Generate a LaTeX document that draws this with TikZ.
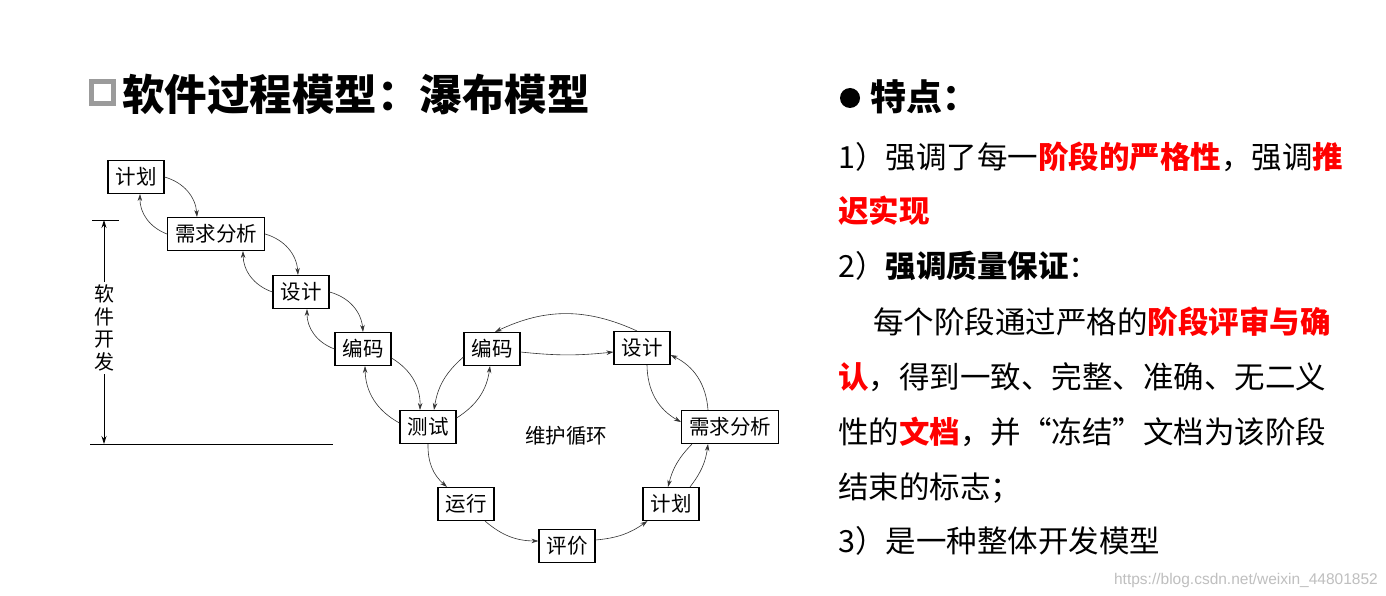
\documentclass[tikz,border=0pt]{standalone}
\usepackage{fontspec}
\setmainfont{Noto Sans CJK SC}
\newfontfamily\wmfont{Liberation Sans}
\usetikzlibrary{arrows.meta,calc}
\definecolor{hlred}{RGB}{255,0,0}
\definecolor{sqgray}{RGB}{155,155,155}
\newcommand{\hl}[1]{\textcolor{hlred}{\bfseries #1}}
\begin{document}
\begin{tikzpicture}[x=1pt,y=-1pt,
  box/.style={draw=black, line width=1.1pt, fill=white, font=\fontsize{20.5}{22}\selectfont, inner xsep=7.5pt, inner ysep=0pt, minimum height=33pt},
  flow/.style={-{Stealth[length=7pt,width=4.5pt]}, line width=0.6pt, draw=black!80},
  dimline/.style={line width=0.8pt, draw=black},
  body/.style={anchor=base west, inner sep=0pt, font=\fontsize{30.5}{32}\selectfont},
]
\useasboundingbox (0,0) rectangle (1386,596);
\fill[white] (0,0) rectangle (1386,596);

% title
\node[draw=sqgray, line width=5pt, minimum size=22pt, inner sep=0pt] (sq) at (102,93) {};
\node[anchor=base west, inner sep=0pt, font=\fontsize{42.5}{44}\selectfont\bfseries] (title) at (122,111) {软件过程模型：瀑布模型};

% waterfall boxes
\node[box] (p1) at (136,177) {计划};
\node[box] (r1) at (216,234) {需求分析};
\node[box] (d1) at (301,292) {设计};
\node[box] (c1) at (363,349) {编码};
\node[box] (t)  at (428,427) {测试};
% maintenance loop
\node[box] (c2) at (492,349) {编码};
\node[box] (d2) at (642,348) {设计};
\node[box] (r2) at (730,427) {需求分析};
\node[box] (p2) at (671,504) {计划};
\node[box] (y)  at (466,504) {运行};
\node[box] (e)  at (567,546) {评价};
\node[font=\fontsize{20.5}{22}\selectfont] (loop) at (566,436) {维护循环};

% waterfall arrows
\draw[flow] (p1.east) to[bend left=35] ($(r1.north)+(-19,0)$);
\draw[flow] (r1.west) to[bend left=35] ($(p1.south)+(4,0)$);
\draw[flow] (r1.east) to[bend left=35] ($(d1.north)+(-3,0)$);
\draw[flow] (d1.west) to[bend left=35] ($(r1.south)+(27,0)$);
\draw[flow] (d1.east) to[bend left=35] (c1.north);
\draw[flow] (c1.west) to[bend left=35] ($(d1.south)+(6,0)$);
\draw[flow] ($(c1.east)+(0,9)$) to[bend left=30] ($(t.north)+(-8,0)$);
\draw[flow] ($(t.west)+(0,-4)$) to[bend left=30] ($(c1.south)+(2,0)$);

% loop arrows
\draw[flow] ($(c2.west)+(0,8)$) to[bend right=20] ($(t.north)+(6,0)$);
\draw[flow] ($(t.east)+(0,-9)$) to[bend right=25] ($(c2.south)+(-2,0)$);
\draw[flow] ($(c2.east)+(0,3)$) to[bend right=6] ($(d2.west)+(0,4)$);
\draw[flow] ($(d2.north)+(-5,0)$) to[bend right=25] ($(c2.north)+(3,0)$);
\draw[flow] ($(d2.south)+(5,0)$) to[bend right=30] ($(r2.west)+(0,-5)$);
\draw[flow] ($(r2.north)+(-22,0)$) to[bend right=30] ($(d2.east)+(0,7)$);
\draw[flow] ($(r2.south)+(-38,0)$) to[bend right=15] ($(p2.north)+(-3,0)$);
\draw[flow] ($(p2.north)+(19,0)$) to[bend right=15] ($(r2.south)+(-22,0)$);
\draw[flow] (t.south) to[bend right=25] ($(y.north)+(-19,0)$);
\draw[flow] ($(y.south)+(19,0)$) to[bend right=20] ($(e.west)+(0,-5)$);
\draw[flow] ($(e.east)+(0,-6)$) to[bend right=15] ($(p2.south west)+(5,0)$);

% software development dimension
\coordinate (tickL) at (92,220);
\coordinate (tickR) at (119,220);
\coordinate (dimtop) at (104,220);
\coordinate (dimbot) at (104,444);
\coordinate (baseL) at (90,444);
\coordinate (baseR) at (333,444);
\draw[dimline] (tickL) -- (tickR);
\draw[dimline] (baseL) -- (baseR);
\node[align=center, inner sep=3pt, font=\fontsize{20}{22.5}\selectfont] (dev) at (104,328) {软\\件\\开\\发};
\draw[dimline, -{Stealth[length=8pt,width=5pt]}] (dev.north) -- (dimtop);
\draw[dimline, -{Stealth[length=8pt,width=5pt]}] (dev.south) -- (dimbot);

% right text
\fill[black] (850,98) circle (10);
\node[anchor=base west, inner sep=0pt, font=\fontsize{36}{38}\selectfont\bfseries] (feat) at (870,110.7) {特点：};
\node[body] (l1) at (838,168.6) {1）强调了每一\hl{阶段的严格性}，强调\hl{推}};
\node[body] (l2) at (838,222.6) {\hl{迟实现}};
\node[body] (l3) at (838,277.6) {2）{\bfseries 强调质量保证}：};
\node[body] (l4) at (873,333.6) {每个阶段通过严格的\hl{阶段评审与确}};
\node[body] (l5) at (838,388.6) {\hl{认}，得到一致、完整、准确、无二义};
\node[body] (l6) at (838,443.6) {性的\hl{文档}，并“冻结”文档为该阶段};
\node[body] (l7) at (838,498.6) {结束的标志；};
\node[body] (l8) at (838,552.6) {3）是一种整体开发模型};

% watermark
\node[anchor=base east, inner sep=0pt, text=black!25, font=\wmfont\fontsize{15.5}{17}\selectfont] (wm) at (1378,584) {https://blog.csdn.net/weixin\_44801852};
\end{tikzpicture}
\end{document}
